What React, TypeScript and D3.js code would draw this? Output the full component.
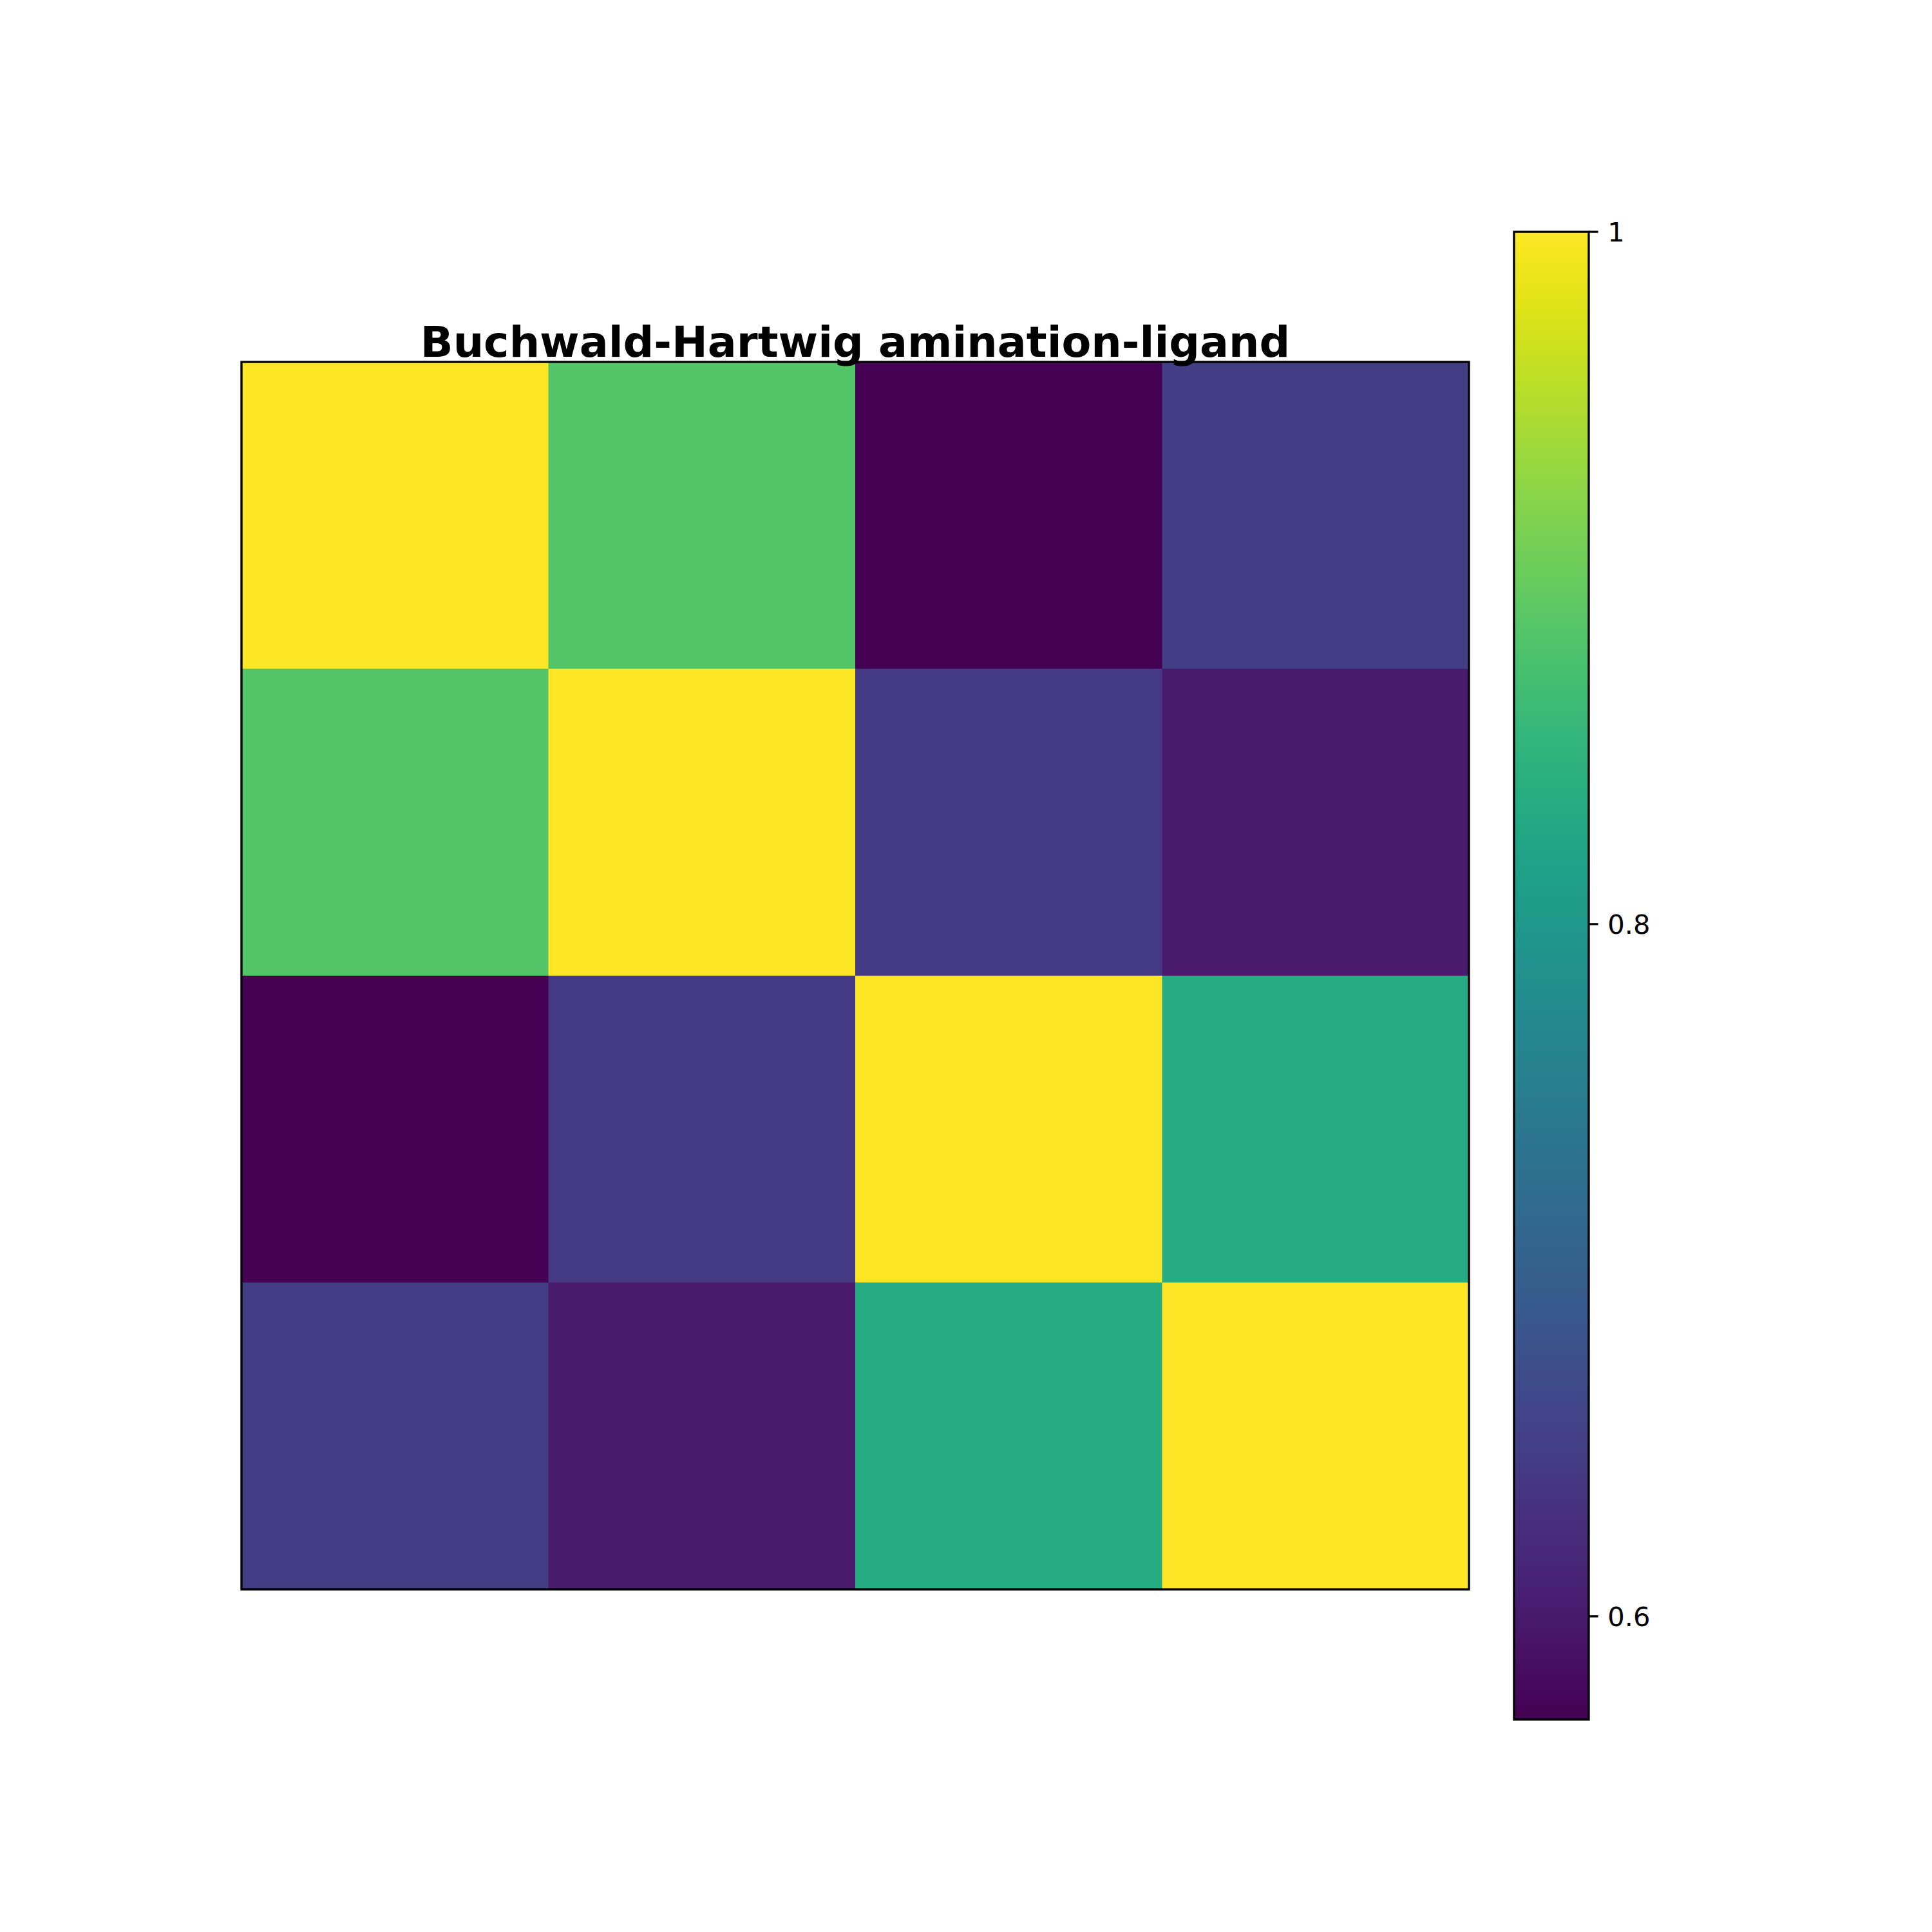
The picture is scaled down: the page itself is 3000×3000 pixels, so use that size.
import React from "react";
import * as d3 from "d3";

const title = "Buchwald-Hartwig amination-ligand";
const rows = [0, 1, 2, 3];
const cols = [0, 1, 2, 3];
const row0 = [1.0, 0.884, 0.5702, 0.646];
const row1 = [0.884, 1.0, 0.641, 0.602];
const row2 = [0.5702, 0.641, 1.0, 0.834];
const row3 = [0.646, 0.602, 0.834, 1.0];
const matrix = [row0, row1, row2, row3];
const vmin = 0.5702;
const vmax = 1.0;
const cbTicks = [0.6, 0.8, 1];

export default function App() {
  const ax = { left: 375, top: 562, size: 1906 };
  const cb = { left: 2351, top: 360, width: 116, height: 2310 };
  const x = d3.scaleBand<number>().domain(cols).range([ax.left, ax.left + ax.size]);
  const y = d3.scaleBand<number>().domain(rows).range([ax.top, ax.top + ax.size]);
  const color = d3.scaleSequential(d3.interpolateViridis).domain([vmin, vmax]);
  const cy = d3.scaleLinear().domain([vmin, vmax]).range([cb.top + cb.height, cb.top]);
  const stops = d3.range(0, 101).map((i) => i / 100);
  const lw = 3.33;
  const font = "'DejaVu Sans', sans-serif";
  return (
    <svg
      width={3000}
      height={3000}
      style={{ position: "absolute", left: 0, top: 0, background: "#fff" }}
    >
      <defs>
        <linearGradient id="cbgrad" x1="0" y1="1" x2="0" y2="0">
          {stops.map((t) => (
            <stop key={t} offset={t} stopColor={d3.interpolateViridis(t)} />
          ))}
        </linearGradient>
      </defs>
      <rect x={0} y={0} width={3000} height={3000} fill="#fff" />
      {matrix.map((row, i) =>
        row.map((v, j) => (
          <rect
            key={`${i}-${j}`}
            x={x(j)}
            y={y(i)}
            width={x.bandwidth() + 0.5}
            height={y.bandwidth() + 0.5}
            fill={color(v)}
          />
        ))
      )}
      <rect
        x={ax.left}
        y={ax.top}
        width={ax.size}
        height={ax.size}
        fill="none"
        stroke="#000"
        strokeWidth={lw}
      />
      <text
        x={ax.left + ax.size / 2}
        y={ax.top - 8}
        textAnchor="middle"
        fontFamily={font}
        fontWeight="bold"
        fontSize={66.7}
        fill="#000"
      >
        {title}
      </text>
      <rect x={cb.left} y={cb.top} width={cb.width} height={cb.height} fill="url(#cbgrad)" />
      <rect
        x={cb.left}
        y={cb.top}
        width={cb.width}
        height={cb.height}
        fill="none"
        stroke="#000"
        strokeWidth={lw}
      />
      {cbTicks.map((t) => (
        <g key={t}>
          <line
            x1={cb.left + cb.width}
            x2={cb.left + cb.width + 14.6}
            y1={cy(t)}
            y2={cy(t)}
            stroke="#000"
            strokeWidth={lw}
          />
          <text
            x={cb.left + cb.width + 14.6 + 14.6}
            y={cy(t)}
            dy="0.36em"
            fontFamily={font}
            fontSize={41.7}
            fill="#000"
          >
            {String(t)}
          </text>
        </g>
      ))}
    </svg>
  );
}
